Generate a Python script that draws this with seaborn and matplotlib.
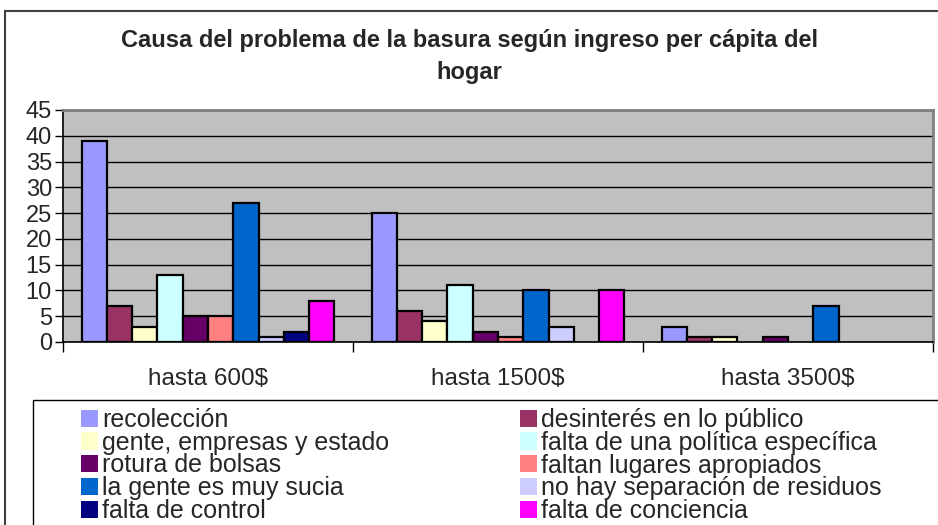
import numpy as np
import pandas as pd
import matplotlib
matplotlib.use("Agg")
import matplotlib.pyplot as plt
import seaborn as sns
from matplotlib.patches import Rectangle

# datos
grupos = ['hasta 600$', 'hasta 1500$', 'hasta 3500$']
causas = ['recolección', 'desinterés en lo público', 'gente, empresas y estado',
          'falta de una política específica', 'rotura de bolsas',
          'faltan lugares apropiados', 'la gente es muy sucia',
          'no hay separación de residuos', 'falta de control', 'falta de conciencia']
v600 = [39, 7, 3, 13, 5, 5, 27, 1, 2, 8]
v1500 = [25, 6, 4, 11, 2, 1, 10, 3, 0, 10]
v3500 = [3, 1, 1, 0, 1, 0, 7, 0, 0, 0]
colores = ['#9999FF', '#993366', '#FFFFCC', '#CCFFFF', '#660066',
           '#FF8080', '#0066CC', '#CCCCFF', '#000080', '#FF00FF']
yticks = list(range(0, 50, 5))

filas = []
for g, vals in zip(grupos, [v600, v1500, v3500]):
    for c, v in zip(causas, vals):
        filas.append({'grupo': g, 'causa': c, 'valor': v})
df = pd.DataFrame(filas)

sns.set_style('white')
plt.rcParams['font.family'] = ['Liberation Sans', 'DejaVu Sans']

fig = plt.figure(figsize=(9.38, 5.25), dpi=100)
ax = fig.add_axes([63/938, 1-342/525, (933-63)/938, (342-110)/525])

sns.barplot(data=df, x='grupo', y='valor', hue='causa', hue_order=causas,
            order=grupos, palette=colores, width=0.872, gap=0,
            edgecolor='black', linewidth=1.6, saturation=1, ax=ax, legend=True)

# barras en cero no se ven en el original
for p in ax.patches:
    if p.get_height() == 0:
        p.set_linewidth(0)

ax.set_facecolor('#C0C0C0')
ax.set_ylim(0, 45)
ax.set_xlim(-0.5, 2.5)
ax.set_yticks(yticks)
ax.yaxis.grid(True, color='black', linewidth=1)
ax.set_axisbelow(True)
ax.set_xlabel('')
ax.set_ylabel('')
ax.tick_params(axis='y', labelsize=17, length=6, width=1, color='black', pad=2, left=True)
ax.tick_params(axis='x', which='major', labelsize=17.5, length=0, pad=19)
ax.set_xticks([-0.5, 0.5, 1.5, 2.5], minor=True)
ax.tick_params(axis='x', which='minor', length=7, width=1, color='black', bottom=True)
for s in ['top', 'right']:
    ax.spines[s].set_color('#808080')
    ax.spines[s].set_linewidth(2)
for s in ['left', 'bottom']:
    ax.spines[s].set_color('black')
    ax.spines[s].set_linewidth(1.2)

handles, labels = ax.get_legend_handles_labels()
ax.get_legend().remove()
estilo = dict(loc='upper left', frameon=False, fontsize=18, handlelength=0.68,
              handleheight=0.68, handletextpad=0.15, labelspacing=-0.05,
              borderpad=0, borderaxespad=0)
col1 = [0, 2, 4, 6, 8]
col2 = [1, 3, 5, 7, 9]
fig.legend([handles[i] for i in col1], [labels[i] for i in col1],
           bbox_to_anchor=(81/938, 1-408/525), **estilo)
fig.legend([handles[i] for i in col2], [labels[i] for i in col2],
           bbox_to_anchor=(520/938, 1-408/525), **estilo)

fig.text(0.5, 1-56/525, 'Causa del problema de la basura según ingreso per cápita del\nhogar',
         ha='center', va='center', fontsize=17, fontweight='bold', linespacing=1.5)

fig.patches.append(Rectangle((5/938, -0.05), 1.1, 1-11/525+0.05, transform=fig.transFigure,
                             fill=False, edgecolor='#404040', linewidth=1.5))
fig.patches.append(Rectangle((33/938, -0.05), 1.1, 1-400/525+0.05, transform=fig.transFigure,
                             fill=False, edgecolor='black', linewidth=1))

fig.savefig('out.png', dpi=100)
